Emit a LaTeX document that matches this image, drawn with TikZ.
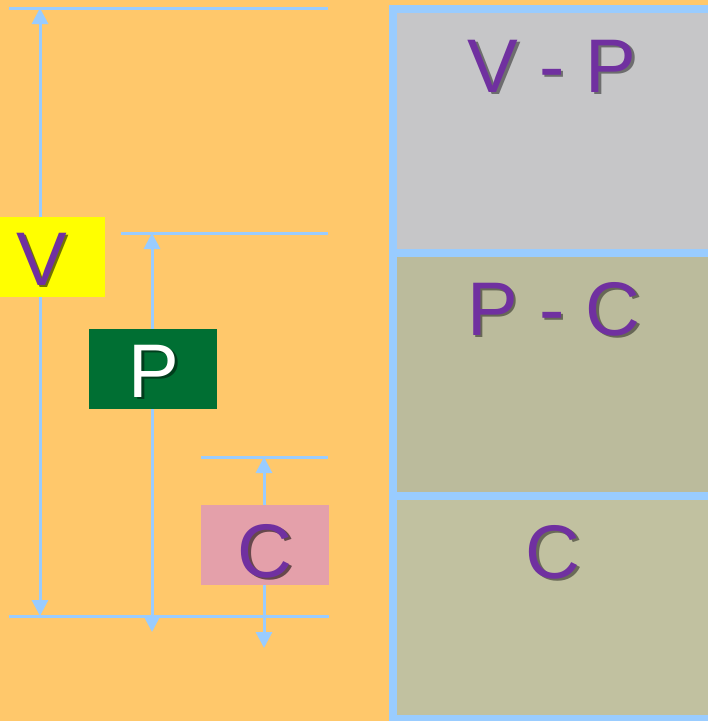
\documentclass[tikz,border=0pt]{standalone}
\usepackage{fontspec}
\setmainfont{Liberation Sans}
\usetikzlibrary{arrows.meta}
\definecolor{bg}{HTML}{FFC86B}
\definecolor{lb}{HTML}{99CCFF}
\definecolor{pu}{HTML}{7030A0}
\definecolor{gr}{HTML}{006F33}
\definecolor{pk}{HTML}{E4A0AA}
\definecolor{yl}{HTML}{FFFF00}
\definecolor{sa}{HTML}{C6C6C8}
\definecolor{sb}{HTML}{BBBB9C}
\definecolor{sc}{HTML}{C1C1A0}
\newcommand\bigf{\fontsize{76}{80}\selectfont}
% text with a drop shadow: #1 text colour, #2 shadow colour, #3 text
\newcommand\shtxt[3]{\rlap{\kern2.5pt\raisebox{-2.5pt}{\color{#2}#3}}{\color{#1}#3}}
\begin{document}
\begin{tikzpicture}[x=1pt,y=-1pt,
  guide/.style={draw=lb,line width=3pt},
  dimboth/.style={draw=lb,line width=3pt,arrows={Triangle[width=16pt,length=16pt]-Triangle[width=16pt,length=16pt]}},
  labelbox/.style={minimum width=128pt,minimum height=80pt,inner sep=0pt},
  bigtxt/.style={anchor=base,font=\bigf,inner sep=0pt},
  panelline/.style={draw=lb,line width=8pt}
]
\useasboundingbox (0,0) rectangle (708,721);
\clip (0,0) rectangle (708,721);
\fill[bg] (0,0) rectangle (708,721);

% right panel
\fill[sa] (393,9) rectangle (712,253);
\fill[sb] (393,253) rectangle (712,496);
\fill[sc] (393,496) rectangle (712,719);
\draw[panelline] (393,9) rectangle (712,719);
\coordinate (d1l) at (393,253);
\coordinate (d1r) at (712,253);
\coordinate (d2l) at (393,496);
\coordinate (d2r) at (712,496);
\draw[panelline] (d1l) -- (d1r);
\draw[panelline] (d2l) -- (d2r);

% guide lines
\coordinate (tl) at (9,8);
\coordinate (tr) at (328,8);
\coordinate (pl) at (121,233);
\coordinate (pr) at (328,233);
\coordinate (cl) at (201,457);
\coordinate (cr) at (328,457);
\coordinate (bl) at (9,616);
\coordinate (br) at (329,616);
\draw[guide] (tl) -- (tr);
\draw[guide] (pl) -- (pr);
\draw[guide] (cl) -- (cr);
\draw[guide] (bl) -- (br);

% dimension arrows
\coordinate (va) at (40,8);
\coordinate (vb) at (40,616);
\coordinate (pa) at (152,233);
\coordinate (pb) at (152,632);
\coordinate (ca) at (264,457);
\coordinate (cb) at (264,648);
\draw[dimboth] (va) -- (vb);
\draw[dimboth] (pa) -- (pb);
\draw[dimboth] (ca) -- (cb);

% label boxes
\node[labelbox,fill=yl] (vbox) at (41,257) {};
\node[labelbox,fill=gr] (pbox) at (153,369) {};
\node[labelbox,fill=pk] (cbox) at (265,545) {};

\node[bigtxt] (vT) at (41.5,285) {\shtxt{pu}{yl!45!black}{V}};
\node[bigtxt] (pT) at (154,397) {\shtxt{white}{gr!55!black}{P}};
\node[bigtxt] (cT) at (265,577) {\shtxt{pu}{pk!45!black}{C}};

% panel texts
\node[bigtxt] (vpT) at (552,92) {\shtxt{pu}{sa!55!black}{V - P}};
\node[bigtxt] (pcT) at (554,335) {\shtxt{pu}{sb!55!black}{P - C}};
\node[bigtxt] (ccT) at (553,578) {\shtxt{pu}{sc!55!black}{C}};
\end{tikzpicture}
\end{document}
